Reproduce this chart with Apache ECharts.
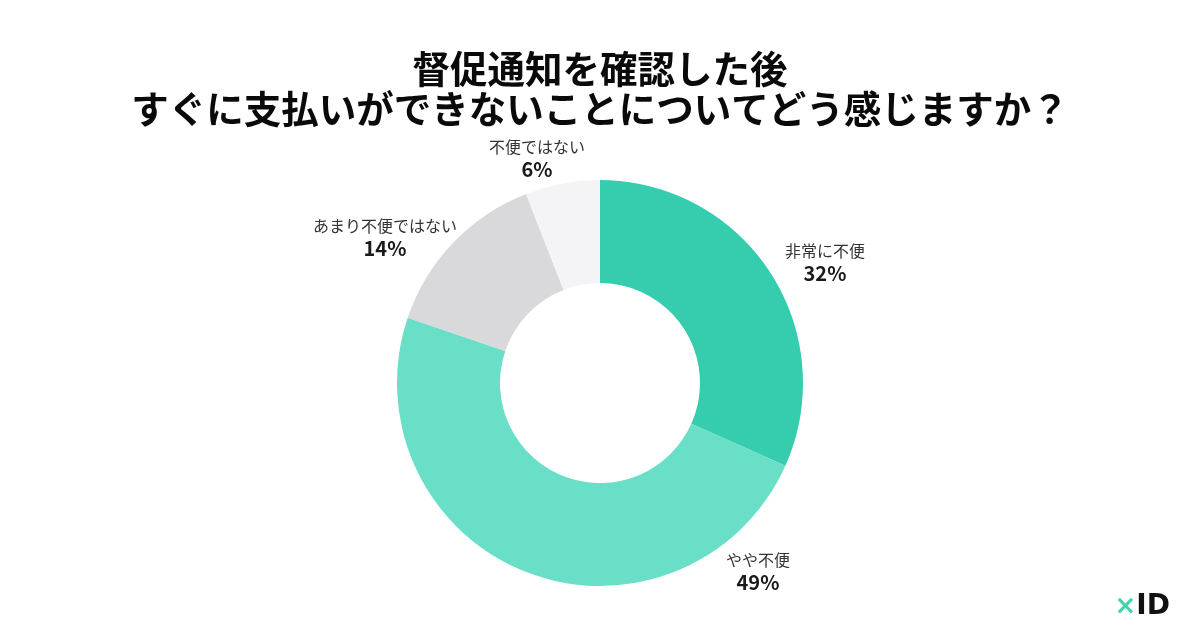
<!DOCTYPE html>
<html><head><meta charset="utf-8">
<script src="https://cdn.jsdelivr.net/npm/echarts@6/dist/echarts.min.js"></script>
<style>html,body{margin:0;padding:0;background:#fff}#c{width:1200px;height:638px}</style>
</head><body><div id="c"></div>
<script>
const categories = ['非常に不便', 'やや不便', 'あまり不便ではない', '不便ではない'];
const values = [32, 49, 14, 6];
const colors = ['#35CDAE', '#6ADFC8', '#D9D9DB', '#F4F4F7'];
const labelPos = [[825, 262], [758, 571], [385, 237], [537, 158]];

const chart = echarts.init(document.getElementById('c'));
chart.setOption({
  backgroundColor: '#fff',
  title: {
    text: '督促通知を確認した後\nすぐに支払いができないことについてどう感じますか？',
    left: 'center', top: 44,
    textStyle: { fontFamily: 'Noto Sans CJK JP', fontWeight: 'bold', fontSize: 37.5, lineHeight: 40, color: '#0a0a0a' }
  },
  graphic: [{
    type: 'text', right: 30, top: 593,
    style: {
      text: '{x|×}{i|ID}',
      rich: {
        x: { fontFamily: 'DejaVu Sans', fontWeight: 'bold', fontSize: 26, fill: '#3FD3AE' },
        i: { fontFamily: 'DejaVu Sans', fontWeight: 'bold', fontSize: 28, fill: '#111' }
      }
    }
  }],
  series: [{
    type: 'pie',
    center: [600, 383],
    radius: [100, 203],
    startAngle: 90,
    clockwise: true,
    silent: true,
    itemStyle: { borderWidth: 0 },
    labelLine: { show: false },
    label: {
      show: true, position: 'outside',
      formatter: '{n|{b}}\n{v|{c}%}',
      rich: {
        n: { fontFamily: 'Noto Sans CJK JP', fontSize: 16, color: '#333', lineHeight: 22, align: 'center' },
        v: { fontFamily: 'Noto Sans CJK JP', fontSize: 20, fontWeight: 'bold', color: '#1a1a1a', lineHeight: 22, align: 'center' }
      }
    },
    labelLayout: function (p) {
      const pos = labelPos[p.dataIndex];
      return { x: pos[0], y: pos[1], align: 'center', verticalAlign: 'middle' };
    },
    data: categories.map((c, i) => ({ name: c, value: values[i], itemStyle: { color: colors[i] } }))
  }]
});
</script></body></html>
